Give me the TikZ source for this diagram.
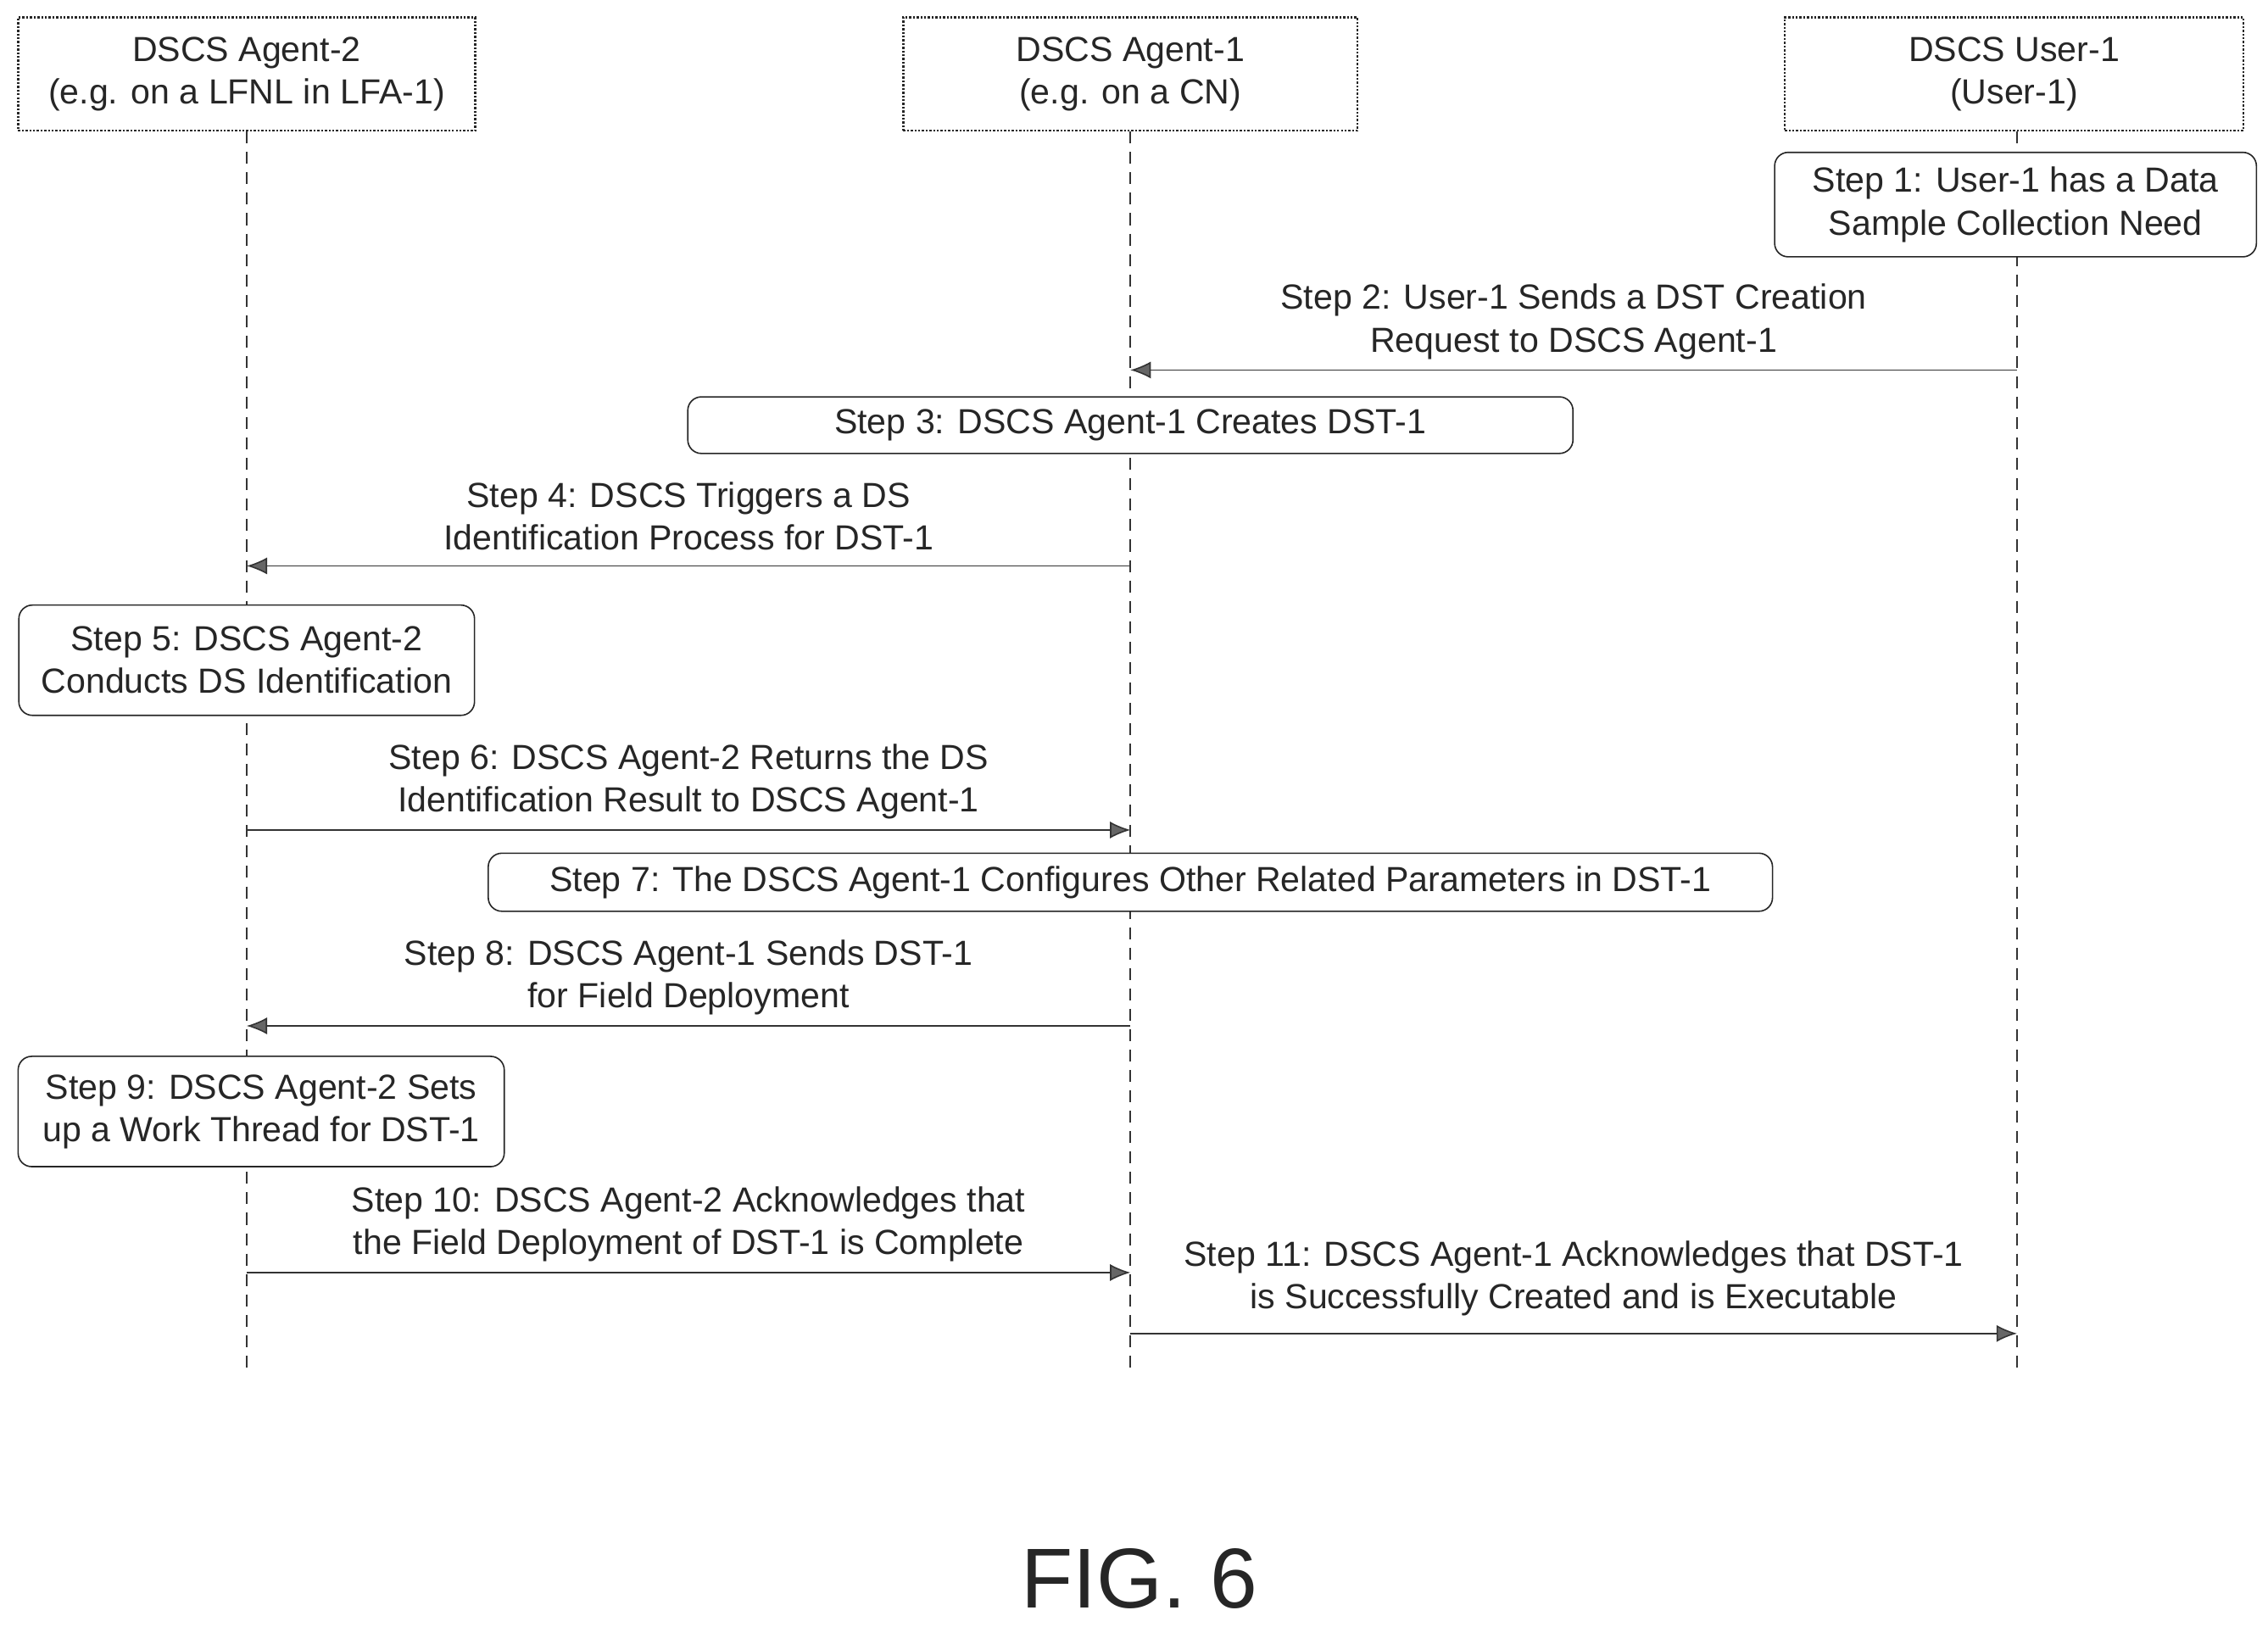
\documentclass[tikz,border=0pt]{standalone}
\usepackage{fontspec}
\setmainfont{Liberation Sans}
\usetikzlibrary{arrows.meta,positioning}
\begin{document}
\begin{tikzpicture}[x=0.03cm,y=-0.03cm,
    every node/.style={font=\fontsize{20.5}{25}\selectfont, text=black!85},
    actor/.style={draw=black!85, densely dotted, very thick, minimum height=2.34cm, align=center},
    stepbox/.style={draw=black!85, thick, rounded corners=8pt, align=center, inner sep=0pt},
    life/.style={draw=black!80, thick, dash pattern=on 7pt off 5pt},
    msg/.style={draw=black!80, thick, -{Latex[length=12pt,width=10pt,fill=black!60]}},
    lbl/.style={above, midway, align=center, inner sep=3pt}]
    \useasboundingbox (0,0) rectangle (1563,1121);

    % participants
    \node (agent2) [actor, minimum width=9.45cm] at (170,51) {DSCS Agent-2\\(e.g. on a LFNL in LFA-1)};
    \node (agent1) [actor, minimum width=9.39cm] at (779,51) {DSCS Agent-1\\(e.g. on a CN)};
    \node (user) [actor, minimum width=9.48cm] at (1388,51) {DSCS User-1\\(User-1)};

    \coordinate (a2end) at (170,945);
    \coordinate (a1end) at (779,945);
    \coordinate (uend) at (1390,945);
    \draw [life] (agent2) -- (a2end);
    \draw [life] (agent1) -- (a1end);
    \draw [life] (user.south -| uend) -- (uend);

    % local steps
    \node (s1) [stepbox, fill=white, minimum width=9.96cm, minimum height=2.16cm] at (1389,141) {Step 1: User-1 has a Data\\Sample Collection Need};
    \node (s3) [stepbox, fill=white, minimum width=18.3cm, minimum height=1.17cm] at (779,293) {Step 3: DSCS Agent-1 Creates DST-1};
    \node (s5) [stepbox, fill=white, minimum width=9.42cm, minimum height=2.28cm] at (170,455) {Step 5: DSCS Agent-2\\Conducts DS Identification};
    \node (s7) [stepbox, fill=white, minimum width=26.55cm, minimum height=1.2cm] at (779,608) {Step 7: The DSCS Agent-1 Configures Other Related Parameters in DST-1};
    \node (s9) [stepbox, fill=white, minimum width=10.05cm, minimum height=2.28cm] at (180,766) {Step 9: DSCS Agent-2 Sets\\up a Work Thread for DST-1};

    % messages
    \coordinate (u2) at (1390,255);  \coordinate (a2) at (779,255);
    \coordinate (a4) at (779,390);   \coordinate (b4) at (170,390);
    \coordinate (b6) at (170,572);   \coordinate (a6) at (779,572);
    \coordinate (a8) at (779,707);   \coordinate (b8) at (170,707);
    \coordinate (b10) at (170,877);  \coordinate (a10) at (779,877);
    \coordinate (a11) at (779,919);  \coordinate (u11) at (1390,919);

    \draw [msg] (u2) -- node [lbl, yshift=3pt] {Step 2: User-1 Sends a DST Creation\\Request to DSCS Agent-1} (a2);
    \draw [msg] (a4) -- node [lbl, yshift=6pt] {Step 4: DSCS Triggers a DS\\Identification Process for DST-1} (b4);
    \draw [msg] (b6) -- node [lbl, yshift=3pt] {Step 6: DSCS Agent-2 Returns the DS\\Identification Result to DSCS Agent-1} (a6);
    \draw [msg] (a8) -- node [lbl, yshift=3pt] {Step 8: DSCS Agent-1 Sends DST-1\\for Field Deployment} (b8);
    \draw [msg] (b10) -- node [lbl, yshift=3pt] {Step 10: DSCS Agent-2 Acknowledges that\\the Field Deployment of DST-1 is Complete} (a10);
    \draw [msg] (a11) -- node [lbl, yshift=7pt] {Step 11: DSCS Agent-1 Acknowledges that DST-1\\is Successfully Created and is Executable} (u11);

    \node (fig) [font=\fontsize{50}{60}\selectfont] at (785,1088) {FIG. 6};
\end{tikzpicture}
\end{document}
